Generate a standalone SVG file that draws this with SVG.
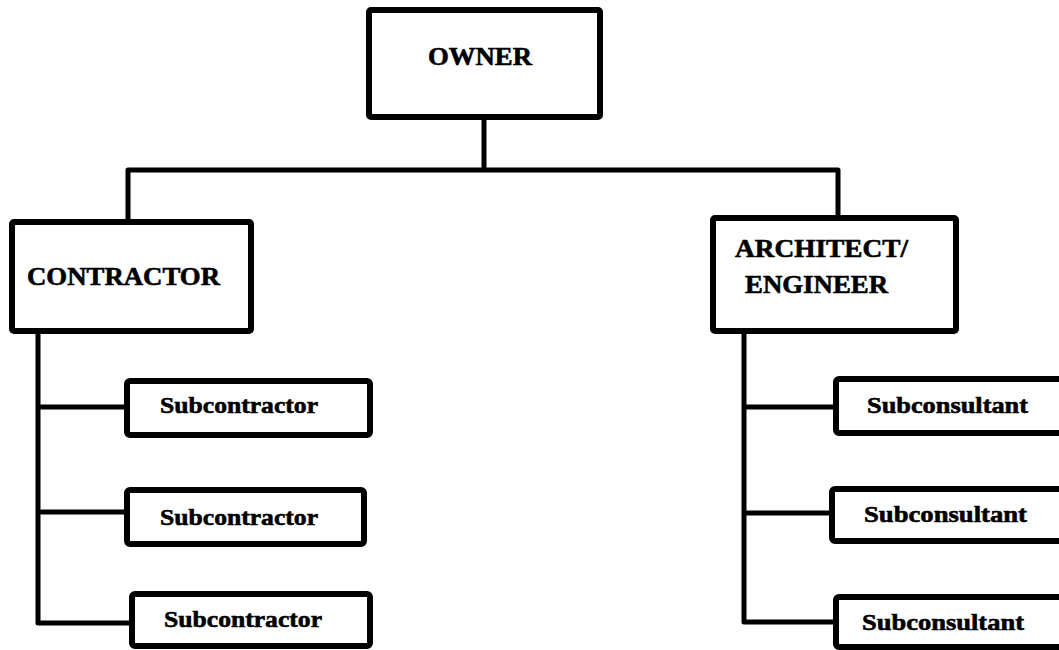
<svg xmlns="http://www.w3.org/2000/svg" width="1059" height="650" viewBox="0 0 1059 650">
<style>
.box{fill:#fff;stroke:#000;stroke-width:6;stroke-linejoin:round}
.ln{fill:none;stroke:#000;stroke-width:5;stroke-linejoin:round;stroke-linecap:round}
.t{font-family:"Liberation Serif","Times New Roman",serif;font-weight:bold;fill:#000;stroke:#000;stroke-width:0.6}
.big{font-size:26px}
.sm{font-size:24px}
</style>
<rect width="1059" height="650" fill="#fff"/>
<g id="connectors">
<path class="ln" d="M484 118 V170 M128 170 H838 M128 170 V220 M838 170 V216"/>
<path class="ln" d="M38 333 V623 H130 M38 407 H125 M38 512 H125"/>
<path class="ln" d="M744 333 V622 H834 M744 407 H834 M744 513 H830"/>
</g>
<g id="owner">
<rect class="box" x="369" y="10" width="231" height="107" rx="2"/>
<text class="t big" x="428" y="65" textLength="104" lengthAdjust="spacingAndGlyphs">OWNER</text>
</g>
<g id="contractor">
<rect class="box" x="12" y="222" width="239" height="109" rx="2"/>
<text class="t big" x="27" y="285" textLength="193" lengthAdjust="spacingAndGlyphs">CONTRACTOR</text>
</g>
<g id="architect">
<rect class="box" x="713" y="218" width="243" height="113" rx="2"/>
<text class="t big" x="735" y="257" textLength="173" lengthAdjust="spacingAndGlyphs">ARCHITECT/</text>
<text class="t big" x="745" y="293" textLength="143" lengthAdjust="spacingAndGlyphs">ENGINEER</text>
</g>
<g id="sub1">
<rect class="box" x="127" y="381" width="243" height="54" rx="3"/>
<text class="t sm" x="160" y="413" textLength="158" lengthAdjust="spacingAndGlyphs">Subcontractor</text>
</g>
<g id="sub2">
<rect class="box" x="127" y="490" width="237" height="54" rx="3"/>
<text class="t sm" x="160" y="525" textLength="158" lengthAdjust="spacingAndGlyphs">Subcontractor</text>
</g>
<g id="sub3">
<rect class="box" x="132" y="594" width="238" height="52" rx="3"/>
<text class="t sm" x="164" y="627" textLength="158" lengthAdjust="spacingAndGlyphs">Subcontractor</text>
</g>
<g id="cons1">
<rect class="box" x="836" y="379" width="240" height="54" rx="3"/>
<text class="t sm" x="867" y="413" textLength="161" lengthAdjust="spacingAndGlyphs">Subconsultant</text>
</g>
<g id="cons2">
<rect class="box" x="832" y="489" width="240" height="52" rx="3"/>
<text class="t sm" x="864" y="522" textLength="163" lengthAdjust="spacingAndGlyphs">Subconsultant</text>
</g>
<g id="cons3">
<rect class="box" x="836" y="597" width="240" height="50" rx="3"/>
<text class="t sm" x="862" y="630" textLength="162" lengthAdjust="spacingAndGlyphs">Subconsultant</text>
</g>
</svg>
